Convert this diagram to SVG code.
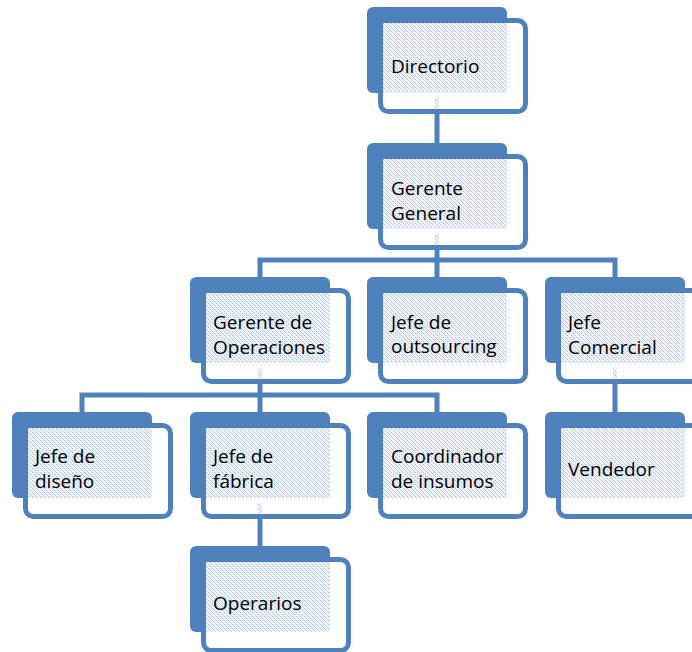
<svg xmlns="http://www.w3.org/2000/svg" width="692" height="652" viewBox="0 0 692 652">
<defs>
<pattern id="tex" width="4" height="4" patternUnits="userSpaceOnUse">
<rect width="4" height="4" fill="#F1F5FA"/>
<rect x="0" y="0" width="1" height="1" fill="#A9BEDB"/>
<rect x="2" y="2" width="1" height="1" fill="#A9BEDB"/>
<rect x="1" y="1" width="1" height="1" fill="#D0DCEE"/>
<rect x="3" y="3" width="1" height="1" fill="#D0DCEE"/>
<rect x="2" y="0" width="1" height="1" fill="#E0E8F3"/>
<rect x="0" y="2" width="1" height="1" fill="#E0E8F3"/>
</pattern>
<g id="node">
<rect x="0" y="0" width="140" height="86" rx="6" fill="#4F81BD"/>
<rect x="13.5" y="13.5" width="145" height="91" rx="8" fill="#FFFFFF" stroke="#4F81BD" stroke-width="5"/>
<rect x="16" y="16" width="124" height="70" fill="url(#tex)"/>
</g>
</defs>
<style>
.t{font-family:"Open Sans","Noto Sans","Liberation Sans",sans-serif;font-size:19px;fill:#000000}
.c{stroke:#4F81BD;stroke-width:5;fill:none}
.s{fill:url(#tex)}
</style>
<rect width="692" height="652" fill="#FFFFFF"/>
<g id="connectors">
<line class="c" x1="437" y1="110" x2="437" y2="145"/>
<polyline class="c" points="260,279 260,260 615,260 615,279"/>
<line class="c" x1="437" y1="246" x2="437" y2="279"/>
<polyline class="c" points="82,414 82,395 437,395 437,414"/>
<line class="c" x1="260" y1="376" x2="260" y2="414"/>
<line class="c" x1="615" y1="376" x2="615" y2="414"/>
<line class="c" x1="260" y1="512" x2="260" y2="548"/>
</g>
<g id="n-directorio" transform="translate(367,7)">
<use href="#node"/>
<rect class="s" x="68" y="91" width="4" height="10"/>
<text class="t" x="24" y="66">Directorio</text>
</g>
<g id="n-gerente-general" transform="translate(367,143)">
<use href="#node"/>
<rect class="s" x="68" y="91" width="4" height="10"/>
<text class="t" x="24" y="52">Gerente</text>
<text class="t" x="24" y="77">General</text>
</g>
<g id="n-gerente-operaciones" transform="translate(190,277)">
<use href="#node"/>
<rect class="s" x="68" y="91" width="4" height="10"/>
<text class="t" x="23" y="52">Gerente de</text>
<text class="t" x="23" y="77">Operaciones</text>
</g>
<g id="n-jefe-outsourcing" transform="translate(367,277)">
<use href="#node"/>
<text class="t" x="24" y="52">Jefe de</text>
<text class="t" x="24" y="76">outsourcing</text>
</g>
<g id="n-jefe-comercial" transform="translate(545,277)">
<use href="#node"/>
<rect class="s" x="68" y="91" width="4" height="10"/>
<text class="t" x="23" y="52">Jefe</text>
<text class="t" x="23" y="77">Comercial</text>
</g>
<g id="n-jefe-diseno" transform="translate(12,412)">
<use href="#node"/>
<text class="t" x="23" y="51">Jefe de</text>
<text class="t" x="23" y="76">diseño</text>
</g>
<g id="n-jefe-fabrica" transform="translate(190,412)">
<use href="#node"/>
<rect class="s" x="68" y="91" width="4" height="10"/>
<text class="t" x="23" y="51">Jefe de</text>
<text class="t" x="23" y="76">fábrica</text>
</g>
<g id="n-coordinador" transform="translate(367,412)">
<use href="#node"/>
<text class="t" x="24" y="51">Coordinador</text>
<text class="t" x="24" y="76">de insumos</text>
</g>
<g id="n-vendedor" transform="translate(545,412)">
<use href="#node"/>
<text class="t" x="23" y="64">Vendedor</text>
</g>
<g id="n-operarios" transform="translate(190,546)">
<use href="#node"/>
<text class="t" x="23" y="64">Operarios</text>
</g>
</svg>
